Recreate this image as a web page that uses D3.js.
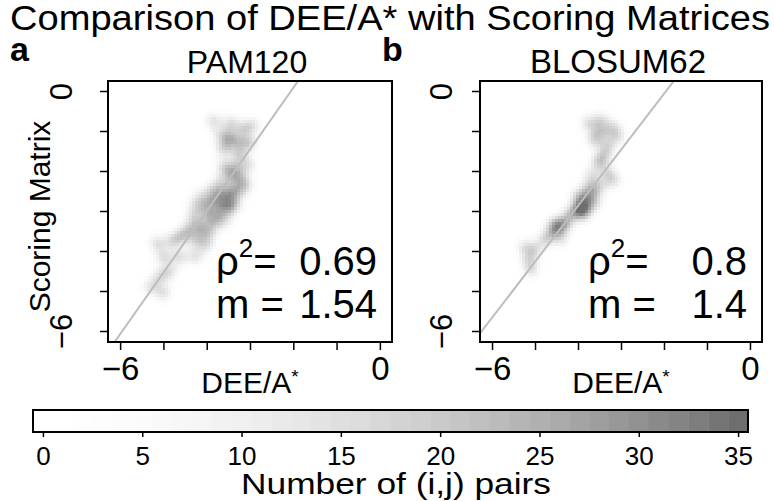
<!DOCTYPE html>
<html>
<head>
<meta charset="utf-8">
<script src="https://cdn.jsdelivr.net/npm/d3@7"></script>
<style>
  body { margin: 0; background: #fff; }
  svg { display: block; font-family: "Liberation Sans", Arial, Helvetica, sans-serif; }
</style>
</head>
<body>
<div id="chart"></div>
<script>
'use strict';

// estimated (i,j) pair locations
var pamX = [-3.85, -3.45, -3.15, -2.93, -3.62, -3.25, -3.0, -3.5, -3.4, -3.7, -3.2,
	-3.35, -3.05, -3.6, -3.2, -3.1,
	-3.7, -3.45, -3.45, -3.65, -3.85, -3.6, -3.45, -3.75, -4.0, -3.85, -3.6, -4.05, -3.9, -3.3, -3.35,
	-4.3, -4.15, -4.45, -3.95, -4.25, -4.6, -4.8, -4.0, -4.3, -4.2,
	-5.15, -5.0, -4.62, -4.25, -5.08, -5.3, -5.0, -4.85];
var pamY = [-0.75, -0.8, -0.95, -0.85, -1.45, -1.6, -1.3, -1.15, -1.25, -1.1, -1.3,
	-1.95, -1.85, -1.9, -2.2, -2.4,
	-2.3, -2.15, -2.55, -2.6, -2.75, -2.85, -2.95, -3.05, -3.1, -3.3, -3.25, -2.85, -2.5, -2.5, -2.8,
	-3.25, -3.45, -3.5, -3.55, -3.75, -3.65, -3.75, -3.85, -2.95, -2.65,
	-3.8, -4.15, -4.15, -4.15, -4.65, -4.9, -5.05, -4.5];
var pamN = [13, 13, 13, 11, 14, 14, 13, 12, 9, 9, 9,
	13, 12, 13, 13, 11,
	11, 11, 12, 12, 12, 12, 11, 11, 11, 11, 11, 11, 11, 10, 11,
	12, 12, 12, 12, 12, 12, 12, 12, 10, 9,
	13, 13, 13, 12, 13, 12, 13, 12];

var blosumX = [-3.77, -3.47, -3.17, -3.63, -3.31, -3.08, -3.4, -3.55,
	-3.54, -3.31, -3.7, -3.17, -3.5, -3.4,
	-3.7, -3.93, -3.8, -4.09, -3.86, -4.23, -3.6, -4.0, -3.95, -3.75,
	-4.46, -4.3, -4.62, -4.78, -4.39, -5.01, -5.24, -5.15, -5.08, -4.55];
var blosumY = [-0.8, -0.72, -0.9, -1.23, -1.4, -1.15, -1.05, -1.0,
	-1.8, -2.05, -2.15, -2.25, -2.4, -1.65,
	-2.6, -2.75, -2.9, -2.98, -3.1, -3.15, -2.8, -2.6, -3.0, -2.45,
	-3.4, -3.35, -3.55, -3.73, -3.7, -3.98, -3.9, -4.23, -4.48, -3.3];
var blosumN = [12, 13, 12, 13, 13, 12, 8, 8,
	13, 12, 12, 12, 12, 12,
	11, 12, 12, 11, 11, 11, 10, 10, 11, 10,
	12, 12, 12, 12, 11, 12, 11, 12, 12, 11];

var panelNames = ['PAM120', 'BLOSUM62'];
var panelLetters = ['a', 'b'];
var rho2 = ['0.69', '0.8'];
var slopes = [1.54, 1.4];
var intercepts = [3.16, 2.73];
var countTicks = [0, 5, 10, 15, 20, 25, 30, 35];

var width = 774, height = 501;
var boxTop = 81, boxBottom = 342;
var panels = [
	{ left: 108, right: 392, labOff: 36, titleSize: 32, xs: pamX, ys: pamY, ns: pamN },
	{ left: 480, right: 762, labOff: 28, titleSize: 33, xs: blosumX, ys: blosumY, ns: blosumN }
];

var svg = d3.select('#chart').append('svg')
	.attr('width', width)
	.attr('height', height);

var gray = d3.scalePow().exponent(1.8)
	.domain([0, 35])
	.range(['#ffffff', '#6e6e6e']);

// title
svg.append('text')
	.attr('x', 10)
	.attr('y', 30)
	.attr('font-size', 35)
	.attr('textLength', 760)
	.attr('lengthAdjust', 'spacingAndGlyphs')
	.text('Comparison of DEE/A* with Scoring Matrices');

var yScale = d3.scaleLinear()
	.domain([-6.275, 0.25])
	.range([boxBottom, boxTop]);

panels.forEach(function(p, k) {
	var xScale = d3.scaleLinear()
		.domain([-6.28, 0.28])
		.range([p.left, p.right]);

	var g = svg.append('g');

	g.append('clipPath').attr('id', 'clip' + k)
		.append('rect')
		.attr('x', p.left).attr('y', boxTop)
		.attr('width', p.right - p.left).attr('height', boxBottom - boxTop);

	// smoothed count of pairs on a grid of small cells
	var cell = 3;
	var sx = 0.15, sy = 0.16;
	var cells = [];
	for (var px = p.left; px < p.right; px += cell) {
		for (var py = boxTop; py < boxBottom; py += cell) {
			var dx = xScale.invert(px + cell / 2);
			var dy = yScale.invert(py + cell / 2);
			var s = 0;
			for (var i = 0; i < p.xs.length; i++) {
				var ux = (dx - p.xs[i]) / sx, uy = (dy - p.ys[i]) / sy;
				s += p.ns[i] * Math.exp(-0.5 * (ux * ux + uy * uy));
			}
			cells.push({ x: px, y: py, v: Math.min(35, Math.round(s)) });
		}
	}

	g.append('g').attr('clip-path', 'url(#clip' + k + ')')
		.selectAll('rect')
		.data(cells.filter(function(c) { return c.v > 0; }))
		.enter().append('rect')
		.attr('x', function(c) { return c.x; })
		.attr('y', function(c) { return c.y; })
		.attr('width', cell + 0.3)
		.attr('height', cell + 0.3)
		.attr('fill', function(c) { return gray(c.v); });

	// fitted line
	var x0 = -6.6, x1 = 0.6;
	g.append('line')
		.attr('clip-path', 'url(#clip' + k + ')')
		.attr('x1', xScale(x0))
		.attr('y1', yScale(slopes[k] * x0 + intercepts[k]))
		.attr('x2', xScale(x1))
		.attr('y2', yScale(slopes[k] * x1 + intercepts[k]))
		.style('stroke', '#bdbdbd')
		.style('stroke-width', 2);

	// box
	g.append('rect')
		.attr('x', p.left).attr('y', boxTop)
		.attr('width', p.right - p.left).attr('height', boxBottom - boxTop)
		.style('fill', 'none')
		.style('stroke', '#000')
		.style('stroke-width', 2);

	var ticks = d3.range(-6, 1);
	var lab = function(d) { return (d === 0 || d === -6) ? String(d).replace('-', '\u2212') : ''; };

	var xAxis = g.append('g')
		.attr('transform', 'translate(0,' + boxBottom + ')')
		.call(d3.axisBottom(xScale).tickValues(ticks).tickSize(8).tickFormat(lab));
	xAxis.select('.domain').remove();
	xAxis.selectAll('line').style('stroke', '#000').style('stroke-width', 1.5);
	xAxis.selectAll('text')
		.attr('y', 38).attr('dy', 0)
		.attr('font-size', 33)
		.attr('font-family', null)
		.style('fill', '#000');

	var yAxis = g.append('g')
		.attr('transform', 'translate(' + p.left + ',0)')
		.call(d3.axisLeft(yScale).tickValues(ticks).tickSize(8).tickFormat(lab));
	yAxis.select('.domain').remove();
	yAxis.selectAll('line').style('stroke', '#000').style('stroke-width', 1.5);
	yAxis.selectAll('text')
		.attr('transform', 'rotate(-90)')
		.attr('x', 0).attr('y', -p.labOff).attr('dy', 0)
		.attr('text-anchor', 'middle')
		.attr('font-size', 31)
		.attr('font-family', null)
		.style('fill', '#000');

	var cx = (p.left + p.right) / 2;

	// panel title and letter
	g.append('text')
		.attr('x', cx - 3).attr('y', 73)
		.attr('text-anchor', 'middle')
		.attr('font-size', p.titleSize)
		.text(panelNames[k]);
	g.append('text')
		.attr('x', p.left - 98).attr('y', 61)
		.attr('font-size', 34)
		.attr('font-weight', 'bold')
		.text(panelLetters[k]);

	// x label
	var xl = g.append('text')
		.attr('x', cx).attr('y', 393)
		.attr('text-anchor', 'middle')
		.attr('font-size', 30);
	xl.append('tspan').text('DEE/A');
	xl.append('tspan').attr('font-size', 19).attr('dy', -10).text('*');

	// stats
	var lx = p.left + 108, rx = p.right - 15;
	var r1 = g.append('text').attr('x', lx).attr('y', 275).attr('font-size', 40);
	r1.append('tspan').text('\u03c1');
	r1.append('tspan').attr('font-size', 26).attr('dy', -18).text('2');
	r1.append('tspan').attr('dy', 18).text('=');
	g.append('text').attr('x', rx).attr('y', 275).attr('font-size', 40)
		.attr('text-anchor', 'end').text(rho2[k]);
	g.append('text').attr('x', lx).attr('y', 318).attr('font-size', 40).text('m =');
	g.append('text').attr('x', rx).attr('y', 318).attr('font-size', 40)
		.attr('text-anchor', 'end').text(String(slopes[k]));
});

// y label
svg.append('text')
	.attr('transform', 'translate(50,' + ((boxTop + boxBottom) / 2 + 5) + ') rotate(-90)')
	.attr('text-anchor', 'middle')
	.attr('font-size', 30)
	.text('Scoring Matrix');

// colour bar
var cb = d3.scaleLinear().domain([-0.5, 35.5]).range([33, 748]);
var cbTop = 410, cbBottom = 432;
svg.append('g').selectAll('rect')
	.data(d3.range(0, 36))
	.enter().append('rect')
	.attr('x', function(d) { return cb(d - 0.5); })
	.attr('y', cbTop)
	.attr('width', cb(1) - cb(0) + 0.4)
	.attr('height', cbBottom - cbTop)
	.attr('fill', function(d) { return gray(d); });
svg.append('rect')
	.attr('x', cb(-0.5)).attr('y', cbTop)
	.attr('width', cb(35.5) - cb(-0.5)).attr('height', cbBottom - cbTop)
	.style('fill', 'none').style('stroke', '#000').style('stroke-width', 2);

var cbAxis = svg.append('g')
	.attr('transform', 'translate(0,' + cbBottom + ')')
	.call(d3.axisBottom(cb).tickValues(countTicks).tickSize(5));
cbAxis.select('.domain').remove();
cbAxis.selectAll('line').style('stroke', '#000').style('stroke-width', 1.5);
cbAxis.selectAll('text')
	.attr('y', 33).attr('dy', 0)
	.attr('font-size', 26)
	.attr('font-family', null)
	.style('fill', '#000');

svg.append('text')
	.attr('x', 396).attr('y', 494)
	.attr('text-anchor', 'middle')
	.attr('font-size', 30)
	.attr('textLength', 310)
	.attr('lengthAdjust', 'spacingAndGlyphs')
	.text('Number of (i,j) pairs');
</script>
</body>
</html>
